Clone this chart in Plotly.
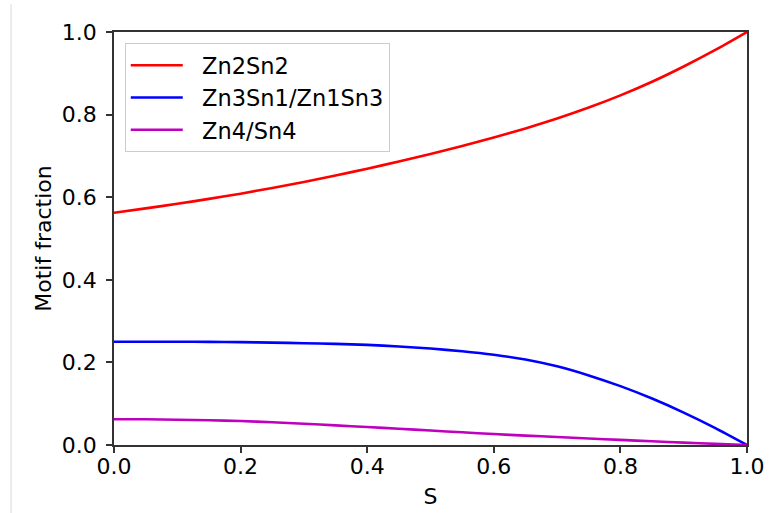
import plotly.graph_objects as go

# Order parameter S
s_values = [0.0, 0.05, 0.1, 0.15, 0.2, 0.25, 0.3, 0.35, 0.4, 0.45, 0.5,
            0.55, 0.6, 0.65, 0.7, 0.75, 0.8, 0.85, 0.9, 0.95, 1.0]

# Motif fractions versus S
zn2sn2 = [0.5625, 0.573, 0.584, 0.596, 0.6085, 0.6225, 0.637, 0.6525, 0.669, 0.6865, 0.7045,
          0.724, 0.7445, 0.7665, 0.7905, 0.817, 0.8465, 0.8795, 0.9165, 0.9565, 1.0]
zn3sn1 = [0.25, 0.25, 0.25, 0.2497, 0.249, 0.248, 0.2465, 0.2448, 0.2425, 0.2385, 0.2335,
          0.227, 0.2185, 0.207, 0.1905, 0.1685, 0.1425, 0.1125, 0.0785, 0.041, 0.0]
zn4sn4 = [0.0625, 0.0622, 0.0612, 0.0598, 0.058, 0.055, 0.0515, 0.0476, 0.0435, 0.0393, 0.035,
          0.0307, 0.0265, 0.0228, 0.0193, 0.0158, 0.0124, 0.009, 0.0058, 0.0028, 0.0]

series_names = ["Zn2Sn2", "Zn3Sn1/Zn1Sn3", "Zn4/Sn4"]
series_colors = ["#ff0000", "#0000ff", "#bf00bf"]

tick_vals = [0.0, 0.2, 0.4, 0.6, 0.8, 1.0]
tick_text = ["0.0", "0.2", "0.4", "0.6", "0.8", "1.0"]

FONT = "DejaVu Sans"
AXIS_COLOR = "#333333"

fig = go.Figure()
for name, ys, color in zip(series_names, [zn2sn2, zn3sn1, zn4sn4], series_colors):
    fig.add_trace(go.Scatter(
        x=s_values, y=ys, mode="lines", name="  " + name,
        line=dict(color=color, width=2.6, shape="spline", smoothing=0.6),
    ))

axis_common = dict(
    range=[0, 1],
    tickvals=tick_vals,
    ticktext=tick_text,
    ticks="outside",
    ticklen=6,
    tickwidth=1.5,
    tickcolor=AXIS_COLOR,
    showline=True,
    linecolor=AXIS_COLOR,
    linewidth=1.5,
    mirror=True,
    showgrid=False,
    zeroline=False,
    automargin=False,
    tickfont=dict(family=FONT, size=22, color="black"),
)

fig.update_xaxes(
    **axis_common,
    ticklabelstandoff=-5,
    title=dict(text="S", font=dict(family=FONT, size=22, color="black"), standoff=10),
)
fig.update_yaxes(
    **axis_common,
    ticklabelstandoff=5,
    title=dict(text="Motif fraction", font=dict(family=FONT, size=22, color="black"), standoff=4),
)

# thin page border line at the far left
fig.add_shape(
    type="line", xref="paper", yref="paper",
    x0=-0.1626, x1=-0.1626, y0=-0.165, y1=1.067,
    line=dict(color="#d8d8d8", width=1),
)

fig.update_layout(
    width=770,
    height=513,
    margin=dict(l=114, r=23, t=32, b=68),
    paper_bgcolor="white",
    plot_bgcolor="white",
    font=dict(family=FONT, size=22, color="black"),
    legend=dict(
        x=0.017, y=0.973, xanchor="left", yanchor="top",
        bgcolor="rgba(255,255,255,0.8)",
        bordercolor="#cccccc", borderwidth=1,
        font=dict(family=FONT, size=22.5, color="black"),
        itemwidth=52,
    ),
    showlegend=True,
)

fig.write_html("out.html")
